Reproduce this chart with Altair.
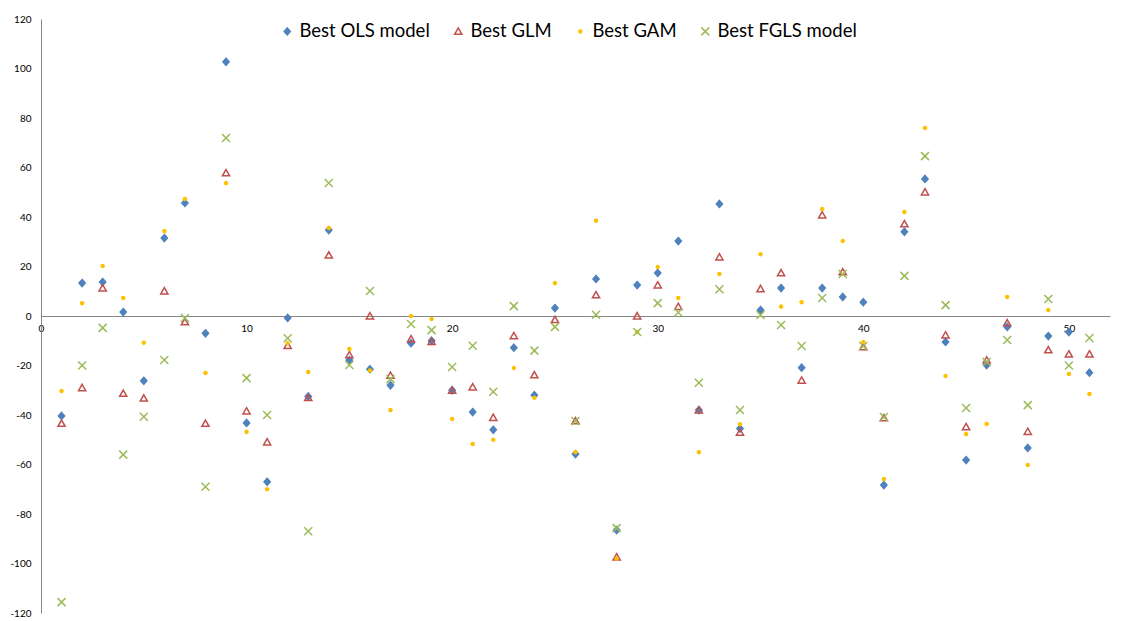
import altair as alt
import pandas as pd

# x index of each observation
obs = list(range(1, 52))

ols = [-40.4, 13.3, 13.7, 1.6, -26.2, 31.5, 45.7, -7.0, 102.7, -43.2,
       -67.0, -0.8, -32.5, 34.7, -17.8, -21.5, -28.0, -11.0, -10.0, -30.0,
       -38.8, -46.0, -12.8, -32.0, 3.2, -55.8, 15.0, -86.5, 12.5, 17.4,
       30.3, -38.0, 45.3, -45.5, 2.4, 11.3, -20.9, 11.3, 7.7, 5.6,
       -68.3, 34.0, 55.4, -10.5, -58.2, -19.8, -4.4, -53.3, -8.1, -6.5,
       -22.9]
glm = [-43.4, -29.0, 11.3, -31.3, -33.2, 10.1, -2.4, -43.4, 57.8, -38.4,
       -50.9, -12.0, -33.0, 24.6, -15.7, 0.0, -24.0, -9.3, -10.3, -30.0,
       -28.7, -41.0, -8.0, -23.8, -1.5, -42.4, 8.5, -97.4, 0.0, 12.5,
       3.8, -38.0, 23.8, -47.0, 11.0, 17.4, -26.0, 40.8, 17.8, -12.5,
       -41.2, 37.2, 50.1, -7.7, -44.8, -17.8, -2.8, -46.7, -13.7, -15.4,
       -15.4]
gam = [-30.3, 5.2, 20.2, 7.3, -10.8, 34.3, 47.3, -23.0, 53.7, -46.8,
       -70.0, -11.0, -22.6, 35.6, -13.3, -22.0, -38.0, 0.0, -1.2, -41.6,
       -51.7, -50.0, -21.0, -33.0, 13.3, -55.0, 38.5, -98.0, -6.5, 19.8,
       7.3, -55.0, 17.0, -43.7, 25.0, 3.8, 5.6, 43.2, 30.3, -10.5,
       -65.9, 42.0, 76.0, -24.2, -47.7, -43.6, 7.7, -60.2, 2.4, -23.4,
       -31.5]
fgls = [-115.6, -20.0, -4.8, -56.0, -40.7, -17.8, -0.8, -69.0, 71.9, -25.1,
        -40.0, -9.0, -87.0, 53.7, -19.8, 10.1, -25.5, -3.2, -5.7, -20.6,
        -12.0, -30.6, 4.0, -14.0, -4.4, -42.4, 0.5, -85.7, -6.5, 5.2,
        1.4, -27.0, 10.8, -38.0, 0.4, -3.6, -12.1, 7.3, 17.0, -12.1,
        -40.8, 16.2, 64.6, 4.4, -37.2, -18.6, -9.7, -36.0, 6.9, -20.0,
        -8.9]

series_names = ["Best OLS model", "Best GLM", "Best GAM", "Best FGLS model"]
x_ticks = [0, 10, 20, 30, 40, 50]
y_ticks = list(range(-120, 121, 20))

rows = []
for name, vals in zip(series_names, [ols, glm, gam, fgls]):
    for i, v in zip(obs, vals):
        rows.append({"obs": i, "value": v, "series": name})
df = pd.DataFrame(rows)

shapes = [
    "M0,-0.7L0.62,0L0,0.7L-0.62,0Z",
    "M0,-0.68L0.72,0.58L-0.72,0.58Z",
    "M-0.3,0A0.3,0.3 0 1,0 0.3,0A0.3,0.3 0 1,0 -0.3,0Z",
    "M-0.8,-0.8L0.8,0.8M-0.8,0.8L0.8,-0.8",
]
strokes = ["#4F81BD", "#C0504D", "#FFC000", "#9BBB59"]
fills = ["#4F81BD", "transparent", "#FFC000", "transparent"]

legend = alt.Legend(
    title=None, orient="none", legendX=237, legendY=3, direction="horizontal",
    columns=4, labelFont="Lato", labelFontSize=18.5, labelColor="#000000",
    symbolSize=100, symbolStrokeWidth=1.5, columnPadding=19, labelOffset=3,
    padding=0,
)

chart = alt.Chart(df).mark_point(size=100, strokeWidth=1.5, opacity=1).encode(
    x=alt.X("obs:Q", scale=alt.Scale(domain=[0, 52], nice=False),
            axis=alt.Axis(values=x_ticks, title=None, grid=False, ticks=False,
                          offset=-297, labelFlush=False, labelFont="Lato",
                          labelFontSize=10, labelColor="#000000", labelPadding=7,
                          domainColor="#868686", labelExpr="'' + datum.value")),
    y=alt.Y("value:Q", scale=alt.Scale(domain=[-120, 120], nice=False),
            axis=alt.Axis(values=y_ticks, title=None, grid=False, ticks=False,
                          labelFont="Lato", labelFontSize=10, labelColor="#000000",
                          labelPadding=10, domainColor="#868686",
                          labelExpr="'' + datum.value")),
    shape=alt.Shape("series:N", scale=alt.Scale(domain=series_names, range=shapes), legend=legend),
    stroke=alt.Stroke("series:N", scale=alt.Scale(domain=series_names, range=strokes), legend=legend),
    fill=alt.Fill("series:N", scale=alt.Scale(domain=series_names, range=fills), legend=legend),
    order=alt.Order("order:Q"),
).transform_calculate(
    order="indexof(['Best OLS model','Best GLM','Best GAM','Best FGLS model'], datum.series)"
).properties(
    width=1069, height=594,
    autosize=alt.AutoSizeParams(type="none"),
    padding={"left": 33, "top": 11, "right": 5, "bottom": 8},
).configure_view(stroke=None)

chart.save("out.html", embed_options={"renderer": "svg", "actions": False})
